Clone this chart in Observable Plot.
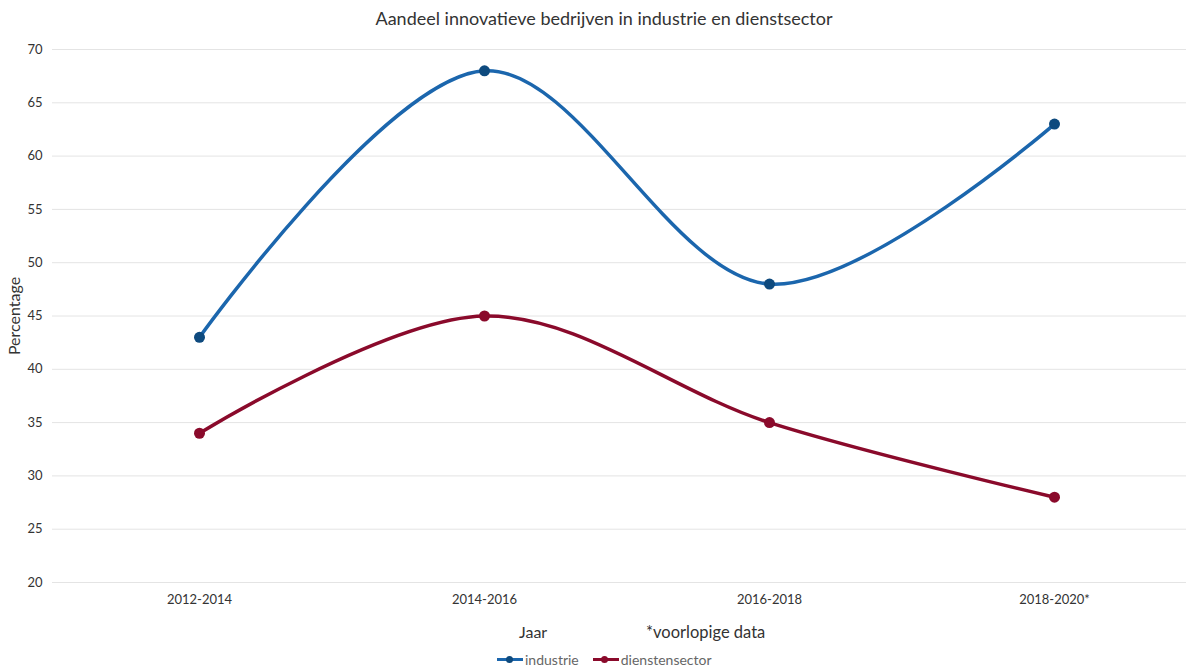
<!DOCTYPE html>
<html>
<head>
<meta charset="utf-8">
<script src="https://cdn.jsdelivr.net/npm/d3@7"></script>
<script src="https://cdn.jsdelivr.net/npm/@observablehq/plot@0.6"></script>
<style>
  html, body { margin: 0; padding: 0; background: #fff; }
  body { width: 1186px; height: 669px; position: relative; overflow: hidden; font-family: Lato, "Open Sans", sans-serif; color: #333; }
  #title { position: absolute; top: 7px; left: 0; width: 1208px; text-align: center; font-size: 18px; color: #333; }
  #chart { position: absolute; top: 36px; left: 0; }
  #ylab { position: absolute; left: 13px; top: 316px; transform: translate(-50%, -50%) rotate(-90deg); font-size: 16px; color: #333; white-space: nowrap; }
  #xlab { position: absolute; top: 622px; left: 519px; font-size: 16px; color: #333; }
  #note { position: absolute; top: 622px; left: 646px; font-size: 16.5px; color: #333; }
  #legend { position: absolute; top: 651px; left: 497px; font-size: 14px; color: #666; display: flex; align-items: center; }
  .item { display: flex; align-items: center; margin-right: 14px; }
  .sw { position: relative; width: 26px; height: 10px; margin-right: 2px; }
  .sw .ln { position: absolute; left: 0; right: 0; top: 3.5px; height: 3px; }
  .sw .dt { position: absolute; left: 8.5px; top: 1.5px; width: 7px; height: 7px; border-radius: 50%; }
</style>
</head>
<body>
<div id="title">Aandeel innovatieve bedrijven in industrie en dienstsector</div>
<div id="chart"></div>
<div id="ylab">Percentage</div>
<div id="xlab">Jaar</div>
<div id="note">*voorlopige data</div>
<div id="legend"></div>
<script>
const periods = ["2012-2014", "2014-2016", "2016-2018", "2018-2020*"];
const industrie = [43, 68, 48, 63];
const dienstensector = [34, 45, 35, 28];
const seriesNames = ["industrie", "dienstensector"];
const lineColors = ["#1b66ad", "#8a0a2b"];
const dotColors = ["#0e4a7e", "#8a0a2b"];
const yTicks = [20, 25, 30, 35, 40, 45, 50, 55, 60, 65, 70];

const data = [];
periods.forEach((p, i) => {
  data.push({period: p, value: industrie[i], series: "industrie"});
  data.push({period: p, value: dienstensector[i], series: "dienstensector"});
});

const chart = Plot.plot({
  width: 1186,
  height: 584,
  marginTop: 13,
  marginBottom: 38,
  marginLeft: 52,
  marginRight: 0,
  style: {fontFamily: "Lato, 'Open Sans', sans-serif", fontSize: "13px", color: "#333", background: "#fff"},
  x: {type: "point", domain: periods, range: [198, 1055], padding: 0, label: null},
  y: {domain: [20, 70], label: null},
  color: {domain: seriesNames, range: lineColors},
  marks: [
    Plot.ruleY(yTicks, {stroke: "#e4e4e4", strokeWidth: 1}),
    Plot.axisY({ticks: yTicks, tickSize: 0, tickPadding: 10, label: null, fontSize: 13}),
    Plot.axisX({tickSize: 0, tickPadding: 12, label: null, fontSize: 13}),
    Plot.line(data, {x: "period", y: "value", z: "series", stroke: "series", strokeWidth: 3.5, curve: "catmull-rom"}),
    Plot.dot(data, {x: "period", y: "value", fill: d => dotColors[seriesNames.indexOf(d.series)], r: 5.5, stroke: "none"})
  ]
});
document.getElementById("chart").appendChild(chart);

const legend = document.getElementById("legend");
seriesNames.forEach((s, i) => {
  const item = document.createElement("div");
  item.className = "item";
  item.innerHTML = `<div class="sw"><div class="ln" style="background:${lineColors[i]}"></div><div class="dt" style="background:${dotColors[i]}"></div></div><span>${s}</span>`;
  legend.appendChild(item);
});
</script>
</body>
</html>
